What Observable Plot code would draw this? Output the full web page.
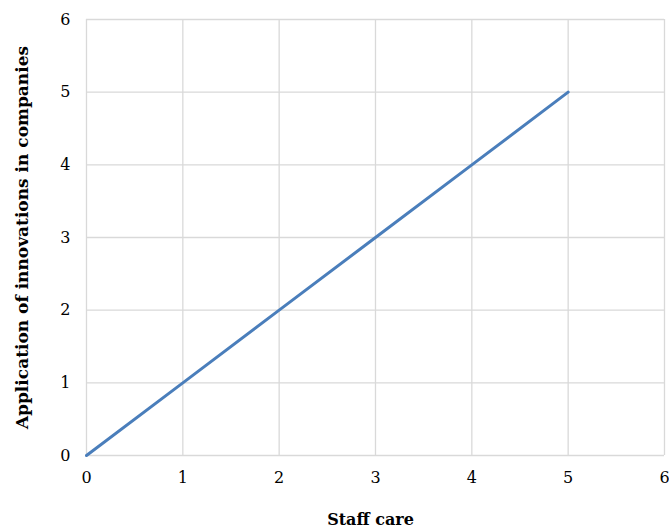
<!DOCTYPE html>
<html>
<head>
<meta charset="utf-8">
<script src="https://cdn.jsdelivr.net/npm/d3@7"></script>
<script src="https://cdn.jsdelivr.net/npm/@observablehq/plot@0.6"></script>
<style>
html,body{margin:0;padding:0;background:#fff;}
</style>
</head>
<body>
<div id="chart"></div>
<script>
const staffCare = [0, 1, 2, 3, 4, 5];
const innovations = [0, 1, 2, 3, 4, 5];
const xTicks = [0, 1, 2, 3, 4, 5, 6];
const yTicks = [0, 1, 2, 3, 4, 5, 6];
const xTitle = "Staff care";
const yTitle = "Application of innovations in companies";

const data = staffCare.map((x, i) => ({x, y: innovations[i]}));
const fmt = d => String(d);

const chart = Plot.plot({
  width: 669,
  height: 532,
  marginLeft: 86,
  marginRight: 5,
  marginTop: 19,
  marginBottom: 77,
  style: {fontFamily: '"DejaVu Serif",serif', fontSize: "16px", background: "#fff", color: "#000"},
  x: {domain: [0, 6], label: null},
  y: {domain: [0, 6], label: null},
  marks: [
    Plot.gridX(xTicks, {stroke: "#d9d9d9", strokeOpacity: 1, strokeWidth: 1.3}),
    Plot.gridY(yTicks, {stroke: "#d9d9d9", strokeOpacity: 1, strokeWidth: 1.3}),
    Plot.axisX(xTicks, {tickSize: 0, tickPadding: 16, fontSize: 16, tickFormat: fmt}),
    Plot.axisY(yTicks, {tickSize: 0, tickPadding: 16, fontSize: 16, tickFormat: fmt}),
    Plot.text([xTitle], {frameAnchor: "bottom", dx: -5, dy: 69, fontWeight: "bold", fontSize: 16}),
    Plot.text([yTitle], {frameAnchor: "left", dx: -64, rotate: -90, textAnchor: "middle", fontWeight: "bold", fontSize: 17}),
    Plot.line(data, {x: "x", y: "y", stroke: "#4a7ebb", strokeWidth: 3})
  ]
});
document.getElementById("chart").appendChild(chart);
</script>
</body>
</html>
